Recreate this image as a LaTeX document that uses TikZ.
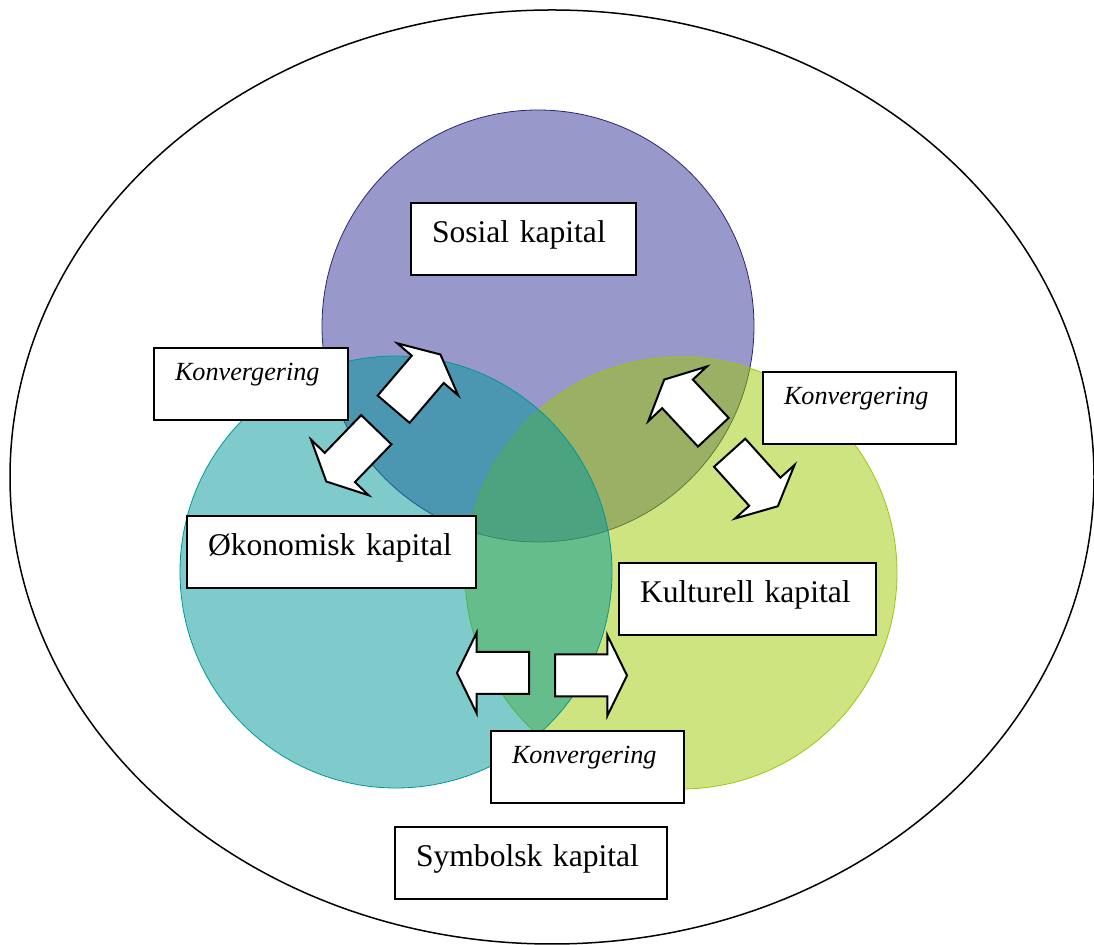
\documentclass[tikz,border=0pt]{standalone}
\usepackage{fontspec}
\setmainfont{Liberation Serif}
\usetikzlibrary{shapes.arrows,shapes.geometric}
\definecolor{sosialcol}{RGB}{49,49,151}
\definecolor{okocol}{RGB}{0,151,153}
\definecolor{kultcol}{RGB}{155,201,1}

\begin{document}
\begin{tikzpicture}[x=0.5pt, y=-0.5pt,
  kap/.style={circle, minimum size=216pt, inner sep=0pt, line width=0.4pt, fill opacity=0.5},
  kbox/.style={draw, line width=1pt, fill=white, anchor=north west, align=left,
               inner xsep=10.5pt, inner ysep=0pt, text height=20pt, text depth=16pt,
               font=\fontsize{15.8}{19}\selectfont},
  konv/.style={kbox, text height=16.5pt, text depth=19.5pt,
               font=\fontsize{13.1}{16}\selectfont\itshape},
  blokk/.style={single arrow, draw, line width=1pt, fill=white, anchor=tail,
                inner xsep=0pt, inner ysep=10pt, text height=0pt, text depth=0pt,
                minimum height=36pt, minimum width=39pt,
                single arrow head extend=9.5pt, single arrow tip angle=128}]
  \useasboundingbox (0,0) rectangle (1094,945);
  \node[draw, ellipse, line width=0.75pt, minimum width=542pt, minimum height=467pt, inner sep=0pt] (symb) at (552,477) {};

  % de tre kapitalformene
  \node[kap, fill=sosialcol, draw=sosialcol!80!black] (sos) at (538,326) {};
  \node[kap, fill=kultcol, draw=kultcol] (kul) at (681,573) {};
  \node[kap, fill=okocol, draw=okocol] (oko) at (396,572) {};

  \node[kbox, text width=91.5pt] (tsos) at (410,202) {Sosial kapital};
  \node[kbox, text width=123.5pt] (toko) at (186,515) {Økonomisk kapital};
  \node[kbox, text width=107.5pt] (tkul) at (618,562) {Kulturell kapital};
  \node[kbox, text width=115pt] (tsym) at (394,826) {Symbolsk kapital};

  \node[konv, text width=76pt] (k1) at (153,347) {Konvergering};
  \node[konv, text width=75.5pt] (k2) at (762,371) {Konvergering};
  \node[konv, text width=75.5pt] (k3) at (490,730) {Konvergering};

  % konverteringspiler
  \node[blokk, rotate=49.5] (a1) at (393,410) {};
  \node[blokk, rotate=226] (a2) at (377,429) {};
  \node[blokk, rotate=133] (a3) at (714,433) {};
  \node[blokk, rotate=-48] (a4) at (729,452) {};
  \node[blokk, rotate=180] (a5) at (530,673) {};
  \node[blokk] (a6) at (554,675.5) {};
\end{tikzpicture}
\end{document}
